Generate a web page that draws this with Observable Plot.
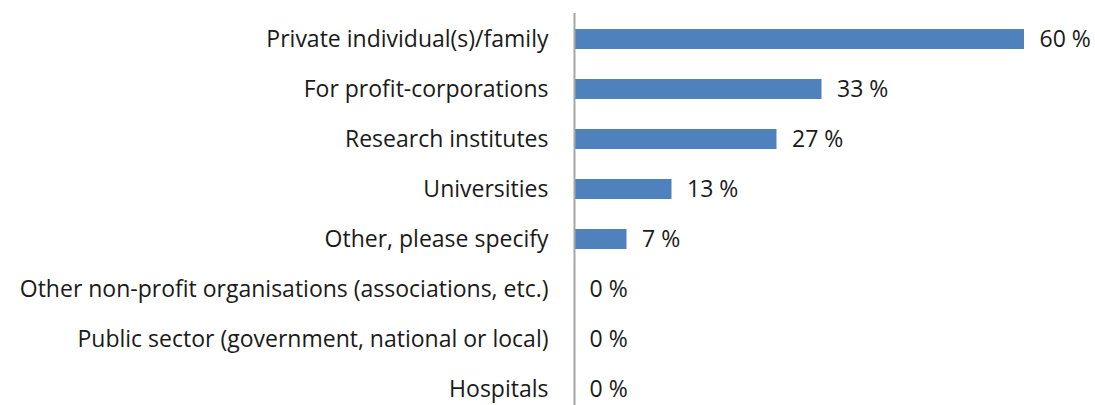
<!DOCTYPE html>
<html><head><meta charset="utf-8">
<script src="https://cdn.jsdelivr.net/npm/d3@7"></script>
<script src="https://cdn.jsdelivr.net/npm/@observablehq/plot@0.6"></script>
<style>body{margin:0;background:#fff;} svg{display:block;}</style>
</head><body><div id="chart"></div>
<script>
const categories = ["Private individual(s)/family","For profit-corporations","Research institutes","Universities","Other, please specify","Other non-profit organisations (associations, etc.)","Public sector (government, national or local)","Hospitals"];
const values = [60, 33, 27, 13, 7, 0, 0, 0];
const data = categories.map((c, i) => ({category: c, value: values[i]}));
const font = "Open Sans";
const chart = Plot.plot({
  width: 1095, height: 405,
  marginTop: 13, marginBottom: 0, marginLeft: 574, marginRight: 71,
  style: {fontFamily: font, fontSize: "23px", color: "#1a1a1a", background: "#fff", overflow: "hidden"},
  x: {domain: [0, 60], range: [574, 1024], axis: null},
  y: {domain: categories, range: [13, 415], paddingInner: 0.6, paddingOuter: 0.3, label: null, tickSize: 0, tickPadding: 26, fontSize: 23},
  marks: [
    Plot.barX(data, {x: "value", y: "category", fill: "#4f81bd"}),
    Plot.ruleX([0], {stroke: "#a6a6a6", strokeWidth: 2}),
    Plot.axisY({tickSize: 0, tickPadding: 26, fontSize: 23, label: null}),
    Plot.text(data, {x: "value", y: "category", text: d => d.value + " %", textAnchor: "start", dx: 15, fill: "#1a1a1a", fontSize: 23})
  ]
});
document.getElementById("chart").append(chart);
</script></body></html>
